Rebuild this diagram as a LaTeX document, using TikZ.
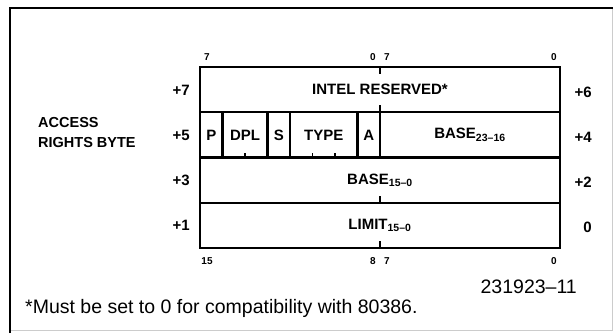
\documentclass[tikz,border=0pt]{standalone}
\usepackage{fontspec}
\setmainfont{Liberation Sans}
\begin{document}
\begin{tikzpicture}[x=1pt,y=-1pt,
  field/.style={draw,line width=2.4pt,minimum height=45.25pt,inner sep=0pt,font=\bfseries\fontsize{15}{16}\selectfont},
  bitnum/.style={inner sep=0pt,font=\bfseries\fontsize{10}{11}\selectfont},
  offset/.style={anchor=east,inner sep=0pt,font=\bfseries\fontsize{15}{16}\selectfont},
  tick/.style={line width=1.6pt}]
\useasboundingbox (0,0) rectangle (613,333);
% frame
\draw[gray!40,line width=0.8pt] (612,8) -- (612,330) -- (10,330);
\draw[line width=2pt] (10,333) -- (10,8) -- (613,8);

% descriptor words
\node[field,minimum width=360pt] (rsv) at (380,89.6) {INTEL RESERVED*};
\node[field,minimum width=22.5pt] (p) at (211.25,134.9) {P};
\node[field,minimum width=45pt] (dpl) at (245,134.9) {DPL};
\node[field,minimum width=22.5pt] (s) at (278.75,134.9) {S};
\node[field,minimum width=67.5pt] (type) at (323.75,134.9) {TYPE};
\node[field,minimum width=22.5pt] (a) at (368.75,134.9) {A};
\node[field,minimum width=180pt] (basehi) at (470,134.9) {BASE\textsubscript{23--16}};
\node[field,minimum width=360pt] (baselo) at (380,180.1) {BASE\textsubscript{15--0}};
\node[field,minimum width=360pt] (limit) at (380,225.4) {LIMIT\textsubscript{15--0}};

% byte boundary ticks
\draw[tick] (rsv.north) -- ++(0,8);
\draw[tick] (rsv.south) -- ++(0,-8);
\draw[tick] (baselo.south) -- ++(0,-8);
\draw[tick] (limit.south) -- ++(0,-8);
\draw[tick] (dpl.south) -- ++(0,-6);
\draw[tick] ([xshift=-11.25pt]type.south) -- ++(0,-6);
\draw[tick] ([xshift=11.25pt]type.south) -- ++(0,-6);

% bit numbers
\node[bitnum] (t7a) at (207,57) {7};
\node[bitnum] (t0a) at (373,57) {0};
\node[bitnum] (t7b) at (387,57) {7};
\node[bitnum] (t0b) at (554,57) {0};
\node[bitnum] (b15) at (207,261) {15};
\node[bitnum] (b8) at (373,261) {8};
\node[bitnum] (b7) at (387,261) {7};
\node[bitnum] (b0) at (554,261) {0};

% byte offsets
\node[offset] (o7) at (190,90) {+7};
\node[offset] (o5) at (190,135) {+5};
\node[offset] (o3) at (190,180) {+3};
\node[offset] (o1) at (190,225) {+1};
\node[offset] (o6) at (592,92) {+6};
\node[offset] (o4) at (592,137) {+4};
\node[offset] (o2) at (592,182) {+2};
\node[offset] (o0) at (592,227) {0};

\node[anchor=west,align=left,inner sep=0pt,font=\bfseries\fontsize{14.5}{20}\selectfont] (arb) at (38,133) {ACCESS\\RIGHTS BYTE};

\node[anchor=east,inner sep=0pt,font=\fontsize{19.5}{22}\selectfont] (fig) at (577,287) {231923--11};
\node[anchor=west,inner sep=0pt,font=\fontsize{19.5}{22}\selectfont] (note) at (25,308) {*Must be set to 0 for compatibility with 80386.};
\end{tikzpicture}
\end{document}
